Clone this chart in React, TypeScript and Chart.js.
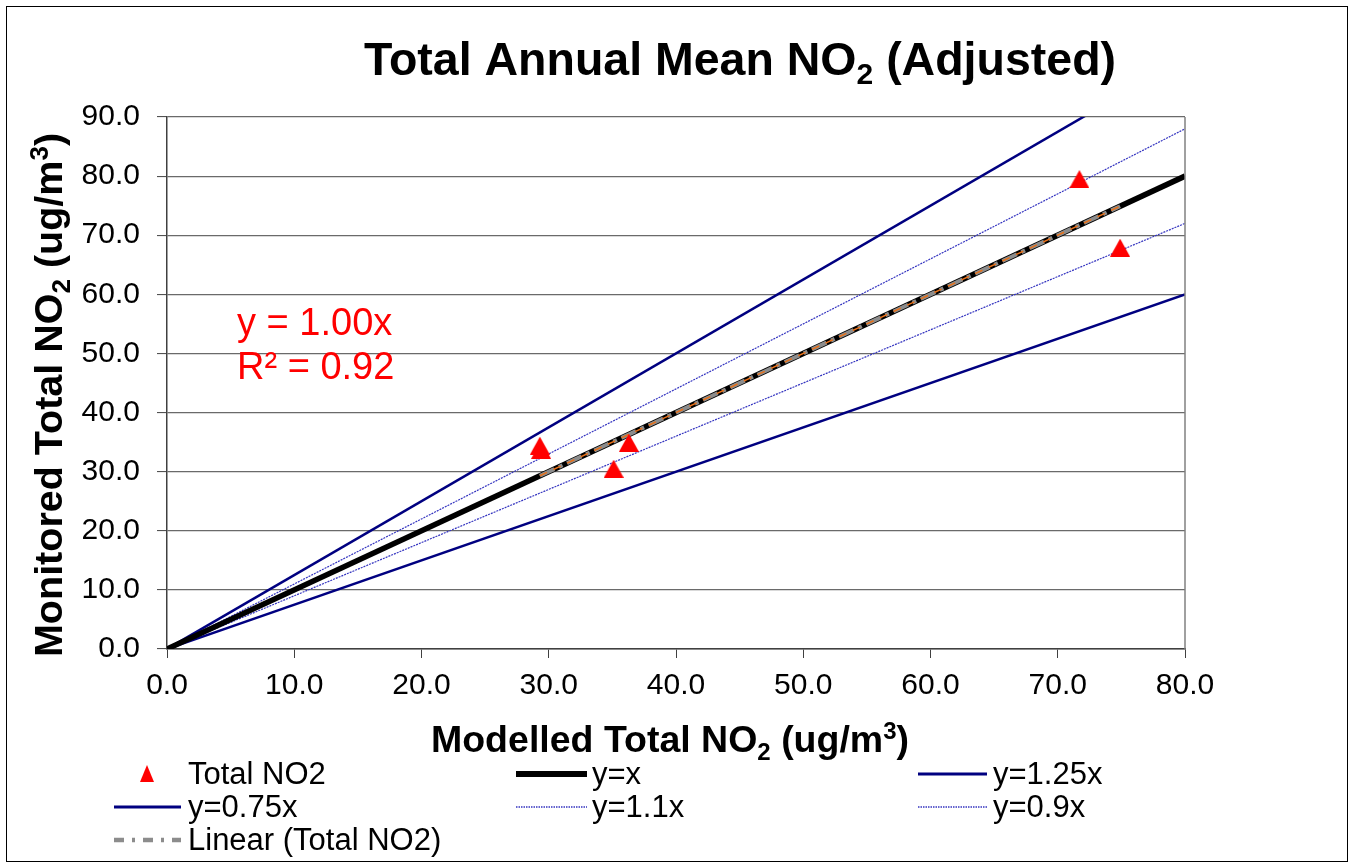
import React, { useEffect, useRef } from 'react';
import { Chart, registerables } from 'chart.js';

Chart.register(...registerables);

// ---- data ----
const MODELLED = [29.3, 29.4, 35.1, 36.3, 71.7, 74.9];
const MONITORED = [34.4, 33.7, 30.5, 34.9, 79.5, 67.9];

const REF_X = [0, 80];
const REF_Y_1_00 = [0, 80];
const REF_Y_1_25 = [0, 100];
const REF_Y_0_75 = [0, 60];
const REF_Y_1_10 = [0, 88];
const REF_Y_0_90 = [0, 72];

const TREND_X = [29.3, 74.9];
const TREND_Y = [29.3, 74.9];

const X_TICKS = [0, 10, 20, 30, 40, 50, 60, 70, 80];
const Y_TICKS = [0, 10, 20, 30, 40, 50, 60, 70, 80, 90];

const EQUATION = ['y = 1.00x', 'R² = 0.92'];

type Part = { t: string; sub?: boolean; sup?: boolean };
const TITLE_PARTS: Part[] = [{ t: 'Total Annual Mean NO' }, { t: '2', sub: true }, { t: ' (Adjusted)' }];
const X_TITLE_PARTS: Part[] = [{ t: 'Modelled Total NO' }, { t: '2', sub: true }, { t: ' (ug/m' }, { t: '3', sup: true }, { t: ')' }];
const Y_TITLE_PARTS: Part[] = [{ t: 'Monitored Total NO' }, { t: '2', sub: true }, { t: ' (ug/m' }, { t: '3', sup: true }, { t: ')' }];

const LEGEND_LABELS = ['Total NO2', 'y=x', 'y=1.25x', 'y=0.75x', 'y=1.1x', 'y=0.9x', 'Linear (Total NO2)'];

const FONT = '"Liberation Sans", Arial, sans-serif';
const NAVY = '#000080';
const THIN_BLUE = '#3535c0';

const pts = (xs: number[], ys: number[]) => xs.map((x, i) => ({ x, y: ys[i] }));

function makeTriangle(w: number, h: number, color: string) {
  const c = document.createElement('canvas');
  c.width = w;
  c.height = h;
  const g = c.getContext('2d')!;
  g.fillStyle = color;
  g.beginPath();
  g.moveTo(w / 2, 0);
  g.lineTo(w, h);
  g.lineTo(0, h);
  g.closePath();
  g.fill();
  return c;
}

function drawRich(ctx: CanvasRenderingContext2D, parts: Part[], cx: number, y: number, size: number, weight: string) {
  const fontFor = (p: Part) => `${weight} ${p.sub || p.sup ? Math.round(size * 0.65) : size}px ${FONT}`;
  let total = 0;
  const widths = parts.map((p) => {
    ctx.font = fontFor(p);
    const w = ctx.measureText(p.t).width;
    total += w;
    return w;
  });
  let x = cx - total / 2;
  ctx.textAlign = 'left';
  ctx.textBaseline = 'alphabetic';
  parts.forEach((p, i) => {
    ctx.font = fontFor(p);
    const dy = p.sub ? size * 0.2 : p.sup ? -size * 0.36 : 0;
    ctx.fillText(p.t, x, y + dy);
    x += widths[i];
  });
}

type LegendStyle = { kind: 'tri' } | { kind: 'line'; color: string; width: number; dash: number[] };

const LEGEND_STYLES: LegendStyle[] = [
  { kind: 'tri' },
  { kind: 'line', color: '#000000', width: 6, dash: [] },
  { kind: 'line', color: NAVY, width: 3, dash: [] },
  { kind: 'line', color: NAVY, width: 3, dash: [] },
  { kind: 'line', color: THIN_BLUE, width: 1.5, dash: [1.5, 1] },
  { kind: 'line', color: THIN_BLUE, width: 1.5, dash: [1.5, 1] },
  { kind: 'line', color: '#8c8c8c', width: 4.5, dash: [10, 8, 3, 8] },
];
const LEGEND_COL = [0, 1, 2, 0, 1, 2, 0];
const LEGEND_ROW = [0, 0, 0, 1, 1, 1, 2];
const COL_LINE_X = [[114, 181], [516, 587], [918, 987]];
const COL_TEXT_X = [188, 592, 993];
const ROW_Y = [774, 807, 840];

const decorPlugin = {
  id: 'decor',
  afterDraw(chart: any) {
    const ctx: CanvasRenderingContext2D = chart.ctx;
    const a = chart.chartArea;
    ctx.save();
    ctx.strokeStyle = '#000';
    ctx.lineWidth = 1;
    ctx.strokeRect(6.5, 6.5, 1341, 855);
    ctx.strokeStyle = '#808080';
    ctx.lineWidth = 1.5;
    ctx.beginPath();
    ctx.moveTo(a.right, a.top);
    ctx.lineTo(a.right, a.bottom);
    ctx.stroke();

    ctx.fillStyle = '#000';
    drawRich(ctx, TITLE_PARTS, 740, 75, 46.5, 'bold');
    drawRich(ctx, X_TITLE_PARTS, 670, 752, 37.5, 'bold');
    ctx.save();
    ctx.translate(62, 395);
    ctx.rotate(-Math.PI / 2);
    drawRich(ctx, Y_TITLE_PARTS, 0, 0, 39.5, 'bold');
    ctx.restore();

    ctx.fillStyle = '#ff0000';
    ctx.font = `38px ${FONT}`;
    ctx.textAlign = 'left';
    ctx.textBaseline = 'alphabetic';
    ctx.fillText(EQUATION[0], 237, 335);
    ctx.fillText(EQUATION[1], 237, 379);

    ctx.font = `31px ${FONT}`;
    LEGEND_LABELS.forEach((label, i) => {
      const col = LEGEND_COL[i];
      const yy = ROW_Y[LEGEND_ROW[i]];
      const st = LEGEND_STYLES[i];
      if (st.kind === 'tri') {
        const cx = 147;
        ctx.fillStyle = '#ff0000';
        ctx.beginPath();
        ctx.moveTo(cx, yy - 9);
        ctx.lineTo(cx + 7, yy + 8);
        ctx.lineTo(cx - 7, yy + 8);
        ctx.closePath();
        ctx.fill();
      } else {
        ctx.strokeStyle = st.color;
        ctx.lineWidth = st.width;
        ctx.setLineDash(st.dash);
        ctx.beginPath();
        ctx.moveTo(COL_LINE_X[col][0], yy);
        ctx.lineTo(COL_LINE_X[col][1], yy);
        ctx.stroke();
        ctx.setLineDash([]);
      }
      ctx.fillStyle = '#000';
      ctx.textBaseline = 'middle';
      ctx.fillText(label, COL_TEXT_X[col], yy + 1);
    });
    ctx.restore();
  },
};

export default function App() {
  const ref = useRef<HTMLCanvasElement>(null);
  useEffect(() => {
    if (!ref.current) return;
    const tri = makeTriangle(20, 18, '#ff0000');
    const lineDs = (label: string, ys: number[], color: string, width: number, dash: number[], order: number, xs = REF_X) => ({
      label,
      data: pts(xs, ys),
      showLine: true,
      borderColor: color,
      backgroundColor: color,
      borderWidth: width,
      borderDash: dash,
      pointRadius: 0,
      pointHoverRadius: 0,
      order,
    });
    const chart = new Chart(ref.current, {
      type: 'scatter',
      data: {
        datasets: [
          {
            label: LEGEND_LABELS[0],
            data: pts(MODELLED, MONITORED),
            showLine: false,
            pointStyle: tri,
            pointRadius: 10,
            backgroundColor: '#ff0000',
            borderColor: '#ff0000',
            order: 0,
          } as any,
          lineDs('Linear (Total NO2) overlay', TREND_Y, '#e8711a', 1.5, [8, 7], 1, TREND_X),
          lineDs(LEGEND_LABELS[6], TREND_Y, '#8c8c8c', 4, [16, 5, 4, 5], 2, TREND_X),
          lineDs(LEGEND_LABELS[1], REF_Y_1_00, '#000000', 5.5, [], 3),
          lineDs(LEGEND_LABELS[2], REF_Y_1_25, NAVY, 2.5, [], 4),
          lineDs(LEGEND_LABELS[3], REF_Y_0_75, NAVY, 2.5, [], 5),
          lineDs(LEGEND_LABELS[4], REF_Y_1_10, THIN_BLUE, 1.2, [2, 1], 6),
          lineDs(LEGEND_LABELS[5], REF_Y_0_90, THIN_BLUE, 1.2, [2, 1], 7),
        ],
      },
      options: {
        responsive: false,
        animation: false,
        events: [],
        layout: { padding: { left: 0, top: 117, right: 169, bottom: 157 } },
        plugins: {
          legend: { display: false },
          title: { display: false },
          tooltip: { enabled: false },
        },
        scales: {
          x: {
            type: 'linear',
            min: 0,
            max: 80,
            afterBuildTicks: (s: any) => {
              s.ticks = X_TICKS.map((v) => ({ value: v }));
            },
            afterFit: (s: any) => {
              s.height = 60;
            },
            ticks: {
              autoSkip: false,
              maxRotation: 0,
              padding: 10,
              color: '#000',
              font: { family: FONT, size: 30 },
              callback: (v: any) => Number(v).toFixed(1),
            },
            grid: { drawOnChartArea: false, drawTicks: true, tickLength: 9, tickColor: '#404040', tickWidth: 1 },
            border: { display: true, color: '#404040', width: 1.5 },
          },
          y: {
            type: 'linear',
            min: 0,
            max: 90,
            afterBuildTicks: (s: any) => {
              s.ticks = Y_TICKS.map((v) => ({ value: v }));
            },
            afterFit: (s: any) => {
              s.width = 167;
            },
            ticks: {
              autoSkip: false,
              padding: 17,
              color: '#000',
              font: { family: FONT, size: 30 },
              callback: (v: any) => Number(v).toFixed(1),
            },
            grid: { drawOnChartArea: true, color: '#6a6a6a', lineWidth: 1.2, drawTicks: true, tickLength: 10, tickColor: '#404040', tickWidth: 1 },
            border: { display: true, color: '#404040', width: 1.5 },
          },
        },
      },
      plugins: [decorPlugin],
    });
    return () => chart.destroy();
  }, []);
  return (
    <div style={{ position: 'absolute', left: 0, top: 0, width: 1354, height: 866, background: '#fff' }}>
      <canvas ref={ref} width={1354} height={866} style={{ display: 'block' }} />
    </div>
  );
}
